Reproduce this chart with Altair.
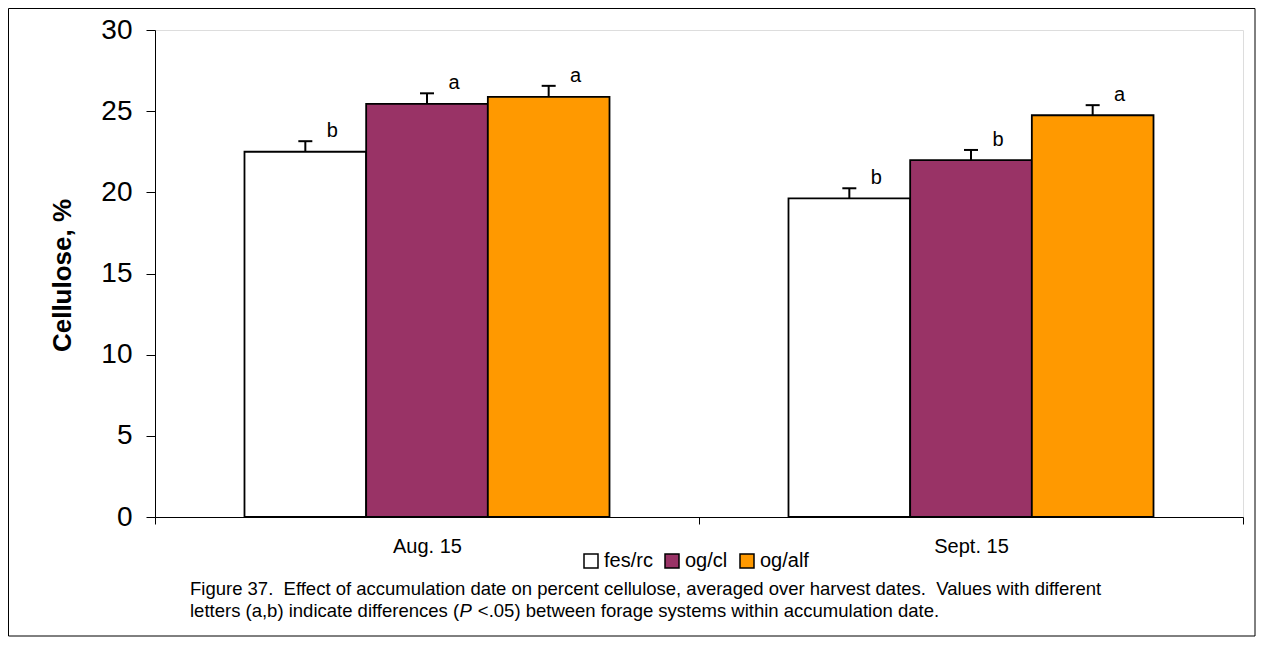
import altair as alt
import pandas as pd

# ---------------- data ----------------
dates = ["Aug. 15", "Sept. 15"]
systems = ["fes/rc", "og/cl", "og/alf"]
aug_values = [22.5, 25.45, 25.88]
sept_values = [19.63, 21.98, 24.75]
aug_errors = [0.65, 0.65, 0.68]
sept_errors = [0.62, 0.63, 0.62]
aug_letters = ["b", "a", "a"]
sept_letters = ["b", "b", "a"]
colors = ["#FFFFFF", "#993366", "#FF9900"]
y_ticks = [0, 5, 10, 15, 20, 25, 30]
y_title = "Cellulose, %"
caption_line1 = ("Figure 37.\u00a0 Effect of accumulation date on percent cellulose, "
                 "averaged over harvest dates.\u00a0 Values with different")
caption_line2_a = "letters (a,b) indicate differences ("
caption_line2_p = "P"
caption_line2_b = "<.05) between forage systems within accumulation date."

FONT = "Liberation Sans"

# Arial / Liberation Sans advance widths (1/1000 em) for caption layout
ARIAL = {" ": 278, "\u00a0": 278, "(": 333, ")": 333, ",": 278, ".": 278, "<": 584,
         "a": 556, "b": 556, "c": 500, "d": 556, "e": 556, "f": 278, "g": 556,
         "h": 556, "i": 222, "l": 222, "m": 833, "n": 556, "o": 556, "p": 556,
         "r": 333, "s": 500, "t": 278, "u": 556, "v": 500, "w": 722, "y": 500,
         "P": 667}


def text_width(s, size):
    return sum(ARIAL.get(ch, 556) for ch in s) / 1000.0 * size


CAP_SIZE = 18.5
cap_x0 = 35
cap_y1 = 559
cap_y2 = 581
xp = cap_x0 + text_width(caption_line2_a, CAP_SIZE)
xb = xp + text_width(caption_line2_p + " ", CAP_SIZE) + 1

rows = []
for d, vals, errs, lets in [(dates[0], aug_values, aug_errors, aug_letters),
                            (dates[1], sept_values, sept_errors, sept_letters)]:
    for s, v, e, l in zip(systems, vals, errs, lets):
        rows.append({"date": d, "system": s, "value": v, "upper": v + e, "letter": l})
df = pd.DataFrame(rows)

# ---------------- chart ----------------
x_enc = alt.X("date:N", sort=dates, title=None,
              scale=alt.Scale(paddingInner=0, paddingOuter=0),
              axis=alt.Axis(tickBand="extent", tickSize=7, labelFontSize=20,
                            labelPadding=12, labelAngle=0, domainColor="black",
                            tickColor="black", labelColor="black", labelFont=FONT))
xoff_enc = alt.XOffset("system:N", sort=systems,
                       scale=alt.Scale(paddingInner=0, paddingOuter=0.7355))

base = alt.Chart(df).encode(x=x_enc, xOffset=xoff_enc)

bars = base.mark_bar(stroke="black", strokeWidth=1.8).encode(
    y=alt.Y("value:Q", scale=alt.Scale(domain=[0, 30], nice=False),
            axis=alt.Axis(values=y_ticks, grid=False, tickSize=9, labelFontSize=28,
                          labelPadding=14, domainColor="black", tickColor="black",
                          labelColor="black", labelFont=FONT, title=y_title,
                          titleFontSize=26, titleFontWeight="bold", titleFont=FONT,
                          titleColor="black", titleAngle=270, titleX=-93,
                          titleY=245, titleAlign="center", titleBaseline="middle")),
    color=alt.Color("system:N", sort=systems,
                    scale=alt.Scale(domain=systems, range=colors),
                    legend=alt.Legend(orient="none", legendX=426, legendY=521,
                                      direction="horizontal", title=None,
                                      symbolType="square", symbolSize=196,
                                      symbolStrokeColor="black", symbolStrokeWidth=1.5,
                                      symbolOpacity=1, labelFontSize=20, labelFont=FONT,
                                      labelColor="black", labelOffset=3,
                                      columnPadding=9)),
)

err = base.mark_rule(color="black", strokeWidth=2).encode(y="value:Q", y2="upper:Q")
caps = base.mark_tick(color="black", thickness=2, size=14, opacity=1).encode(y="upper:Q")
letters = base.mark_text(dx=27, dy=-4, baseline="alphabetic", align="center",
                         fontSize=20, font=FONT, color="black").encode(
    y="upper:Q", text="letter:N")

frame_df = pd.DataFrame({"k": [0]})
border = alt.Chart(frame_df).mark_rect(fillOpacity=0, stroke="black", strokeWidth=1).encode(
    x=alt.value(-146.5), x2=alt.value(1100), y=alt.value(-21.5), y2=alt.value(606))


def cap_text(txt, xpos, ypos, italic=False):
    kw = dict(align="left", baseline="middle", fontSize=CAP_SIZE, font=FONT, color="black")
    if italic:
        kw["fontStyle"] = "italic"
    return alt.Chart(pd.DataFrame({"t": [txt]})).mark_text(**kw).encode(
        x=alt.value(xpos), y=alt.value(ypos), text="t:N")


c1 = cap_text(caption_line1, cap_x0, cap_y1)
c2a = cap_text(caption_line2_a, cap_x0, cap_y2)
c2p = cap_text(caption_line2_p, xp, cap_y2, italic=True)
c2b = cap_text(caption_line2_b, xb, cap_y2)

chart = alt.layer(border, bars, err, caps, letters, c1, c2a, c2p, c2b).properties(
    width=1088, height=487,
    autosize=alt.AutoSizeParams(type="none"),
    padding={"left": 147, "top": 22, "right": 13, "bottom": 120},
).configure_view(stroke="transparent").configure(font=FONT, background="white")

chart.save("out.html", embed_options={"renderer": "svg", "actions": False})
